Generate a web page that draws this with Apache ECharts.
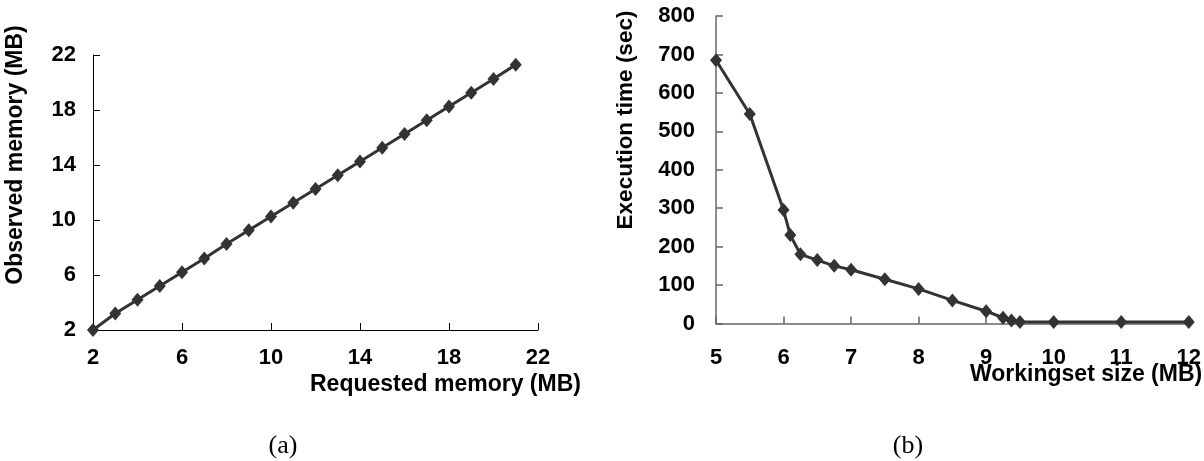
<!DOCTYPE html>
<html>
<head>
<meta charset="utf-8">
<script src="https://cdn.jsdelivr.net/npm/echarts@6/dist/echarts.min.js"></script>
<style>html,body{margin:0;padding:0;background:#fff;}#c{width:1204px;height:461px;}</style>
</head>
<body>
<div id="c"></div>
<script>
// Chart (a)
const requestedMem = [2, 3, 4, 5, 6, 7, 8, 9, 10, 11, 12, 13, 14, 15, 16, 17, 18, 19, 20, 21];
const observedMem = [2, 3.2, 4.2, 5.2, 6.2, 7.2, 8.25, 9.25, 10.25, 11.25, 12.25, 13.25, 14.25, 15.25, 16.25, 17.25, 18.25, 19.25, 20.25, 21.3];
// Chart (b)
const workingset = [5, 5.5, 6, 6.1, 6.25, 6.5, 6.75, 7, 7.5, 8, 8.5, 9, 9.25, 9.375, 9.5, 10, 11, 12];
const execTime = [685, 545, 295, 230, 180, 165, 150, 140, 115, 90, 60, 32, 15, 8, 4, 4, 4, 4];

const titles = {
  ax: 'Requested memory (MB)', ay: 'Observed memory (MB)',
  bx: 'Workingset size (MB)', by: 'Execution time (sec)',
  a: '(a)', b: '(b)'
};

const FONT = '"Liberation Sans", Arial, sans-serif';
const SERIF = '"Liberation Serif", "Times New Roman", serif';
const labelStyle = { fontFamily: FONT, fontWeight: 'bold', fontSize: 22, color: '#000' };

function axis(gridIndex, min, max, interval, color, width, margin) {
  return {
    type: 'value', gridIndex, min, max, interval,
    axisLine: { show: true, onZero: false, lineStyle: { color, width } },
    axisTick: { show: true, inside: true, length: 7, lineStyle: { color, width } },
    splitLine: { show: false },
    axisLabel: Object.assign({ margin }, labelStyle)
  };
}

function txt(text, x, y, font, align, rot) {
  return {
    type: 'text', x, y, rotation: rot || 0,
    style: { text, font, fill: '#000', align: align, verticalAlign: 'middle' }
  };
}

const chart = echarts.init(document.getElementById('c'), null, { renderer: 'canvas' });
const lineStyle = { color: '#333', width: 3 };
chart.setOption({
  animation: false,
  grid: [
    { left: 93, top: 55, width: 445, height: 275 },
    { left: 716, top: 16, width: 474, height: 307.5 }
  ],
  xAxis: [
    axis(0, 2, 22, 4, '#000', 1, 17),
    axis(1, 5, 12, 1, '#666', 1.5, 23)
  ],
  yAxis: [
    axis(0, 2, 22, 4, '#000', 1, 17),
    axis(1, 0, 800, 100, '#666', 1.5, 21)
  ],
  series: [
    {
      type: 'line', xAxisIndex: 0, yAxisIndex: 0,
      data: requestedMem.map((x, i) => [x, observedMem[i]]),
      symbol: 'diamond', symbolSize: [12, 14], showAllSymbol: true,
      lineStyle, itemStyle: { color: '#333' }
    },
    {
      type: 'line', xAxisIndex: 1, yAxisIndex: 1,
      data: workingset.map((x, i) => [x, execTime[i]]),
      symbol: 'diamond', symbolSize: [12, 14], showAllSymbol: true,
      lineStyle, itemStyle: { color: '#333' }
    }
  ],
  graphic: [
    txt(titles.ax, 310, 385, 'bold 23px ' + FONT, 'left'),
    txt(titles.bx, 970, 375, 'bold 23px ' + FONT, 'left'),
    txt(titles.ay, 16, 155, 'bold 23px ' + FONT, 'center', Math.PI / 2),
    txt(titles.by, 626, 120, 'bold 22.5px ' + FONT, 'center', Math.PI / 2),
    txt(titles.a, 283, 446, '26px ' + SERIF, 'center'),
    txt(titles.b, 908, 446, '26px ' + SERIF, 'center')
  ]
});
</script>
</body>
</html>
